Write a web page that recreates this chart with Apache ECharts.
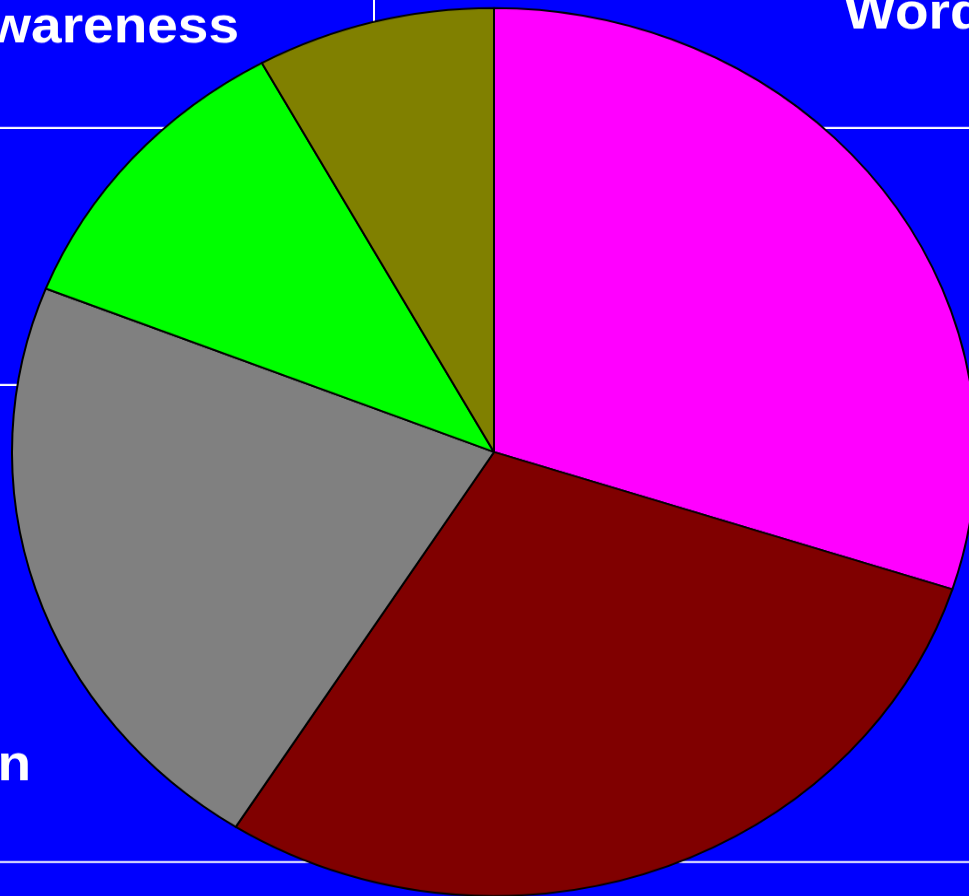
<!DOCTYPE html>
<html>
<head>
<meta charset="utf-8">
<script src="https://cdn.jsdelivr.net/npm/echarts@6/dist/echarts.min.js"></script>
<style>
html, body { margin: 0; padding: 0; width: 969px; height: 896px; overflow: hidden; background: #0000ff; }
/* pie in the reference is a bit wider than tall, so the chart is squeezed vertically */
#main { width: 969px; height: 973px; transform: scaleY(0.9212); transform-origin: 0 0; }
</style>
</head>
<body>
<div id="main"></div>
<script>
var names = ['Word of Mouth', 'Online Ads', 'Television', 'Brand Awareness', 'Other'];
var shares = [30, 29, 22, 11, 8];
var colors = ['#ff00ff', '#800000', '#808080', '#00ff00', '#808000'];
var showLabel = [true, false, true, true, false];

var sy = 0.9212;
var myChart = echarts.init(document.getElementById('main'));

// where the (cropped) labels sit, screen px
var labelPos = {
    'Word of Mouth': { x: 844, y: 15, align: 'left' },
    'Brand Awareness': { x: 239, y: 28, align: 'right' },
    'Television': { x: 31, y: 766, align: 'right' }
};

var data = names.map(function (n, i) {
    return {
        name: n,
        value: shares[i],
        itemStyle: { color: colors[i] },
        label: { show: showLabel[i] }
    };
});

function hline(y) {
    return { type: 'line', z: 0, shape: { x1: 0, y1: y / sy, x2: 969, y2: y / sy },
        style: { stroke: '#ffffff', lineWidth: 2.2 } };
}

myChart.setOption(option = {
    backgroundColor: '#0000ff',
    animation: false,
    graphic: [
        hline(128),
        hline(385),
        hline(862),
        { type: 'line', z: 0, shape: { x1: 374, y1: 0, x2: 374, y2: 60 },
          style: { stroke: '#ffffff', lineWidth: 2 } }
    ],
    series: [{
        type: 'pie',
        center: [494, 452 / sy],
        radius: 482,
        startAngle: 90,
        clockwise: true,
        avoidLabelOverlap: false,
        itemStyle: {
            borderColor: '#000000',
            borderWidth: 2
        },
        label: {
            position: 'outside',
            color: '#ffffff',
            fontFamily: 'Liberation Sans',
            fontWeight: 'bold',
            fontSize: 55
        },
        labelLine: { show: false },
        labelLayout: function (params) {
            var p = labelPos[params.text];
            if (!p) return {};
            return { x: p.x, y: p.y / sy, align: p.align, verticalAlign: 'middle' };
        },
        data: data
    }]
});
</script>
</body>
</html>
